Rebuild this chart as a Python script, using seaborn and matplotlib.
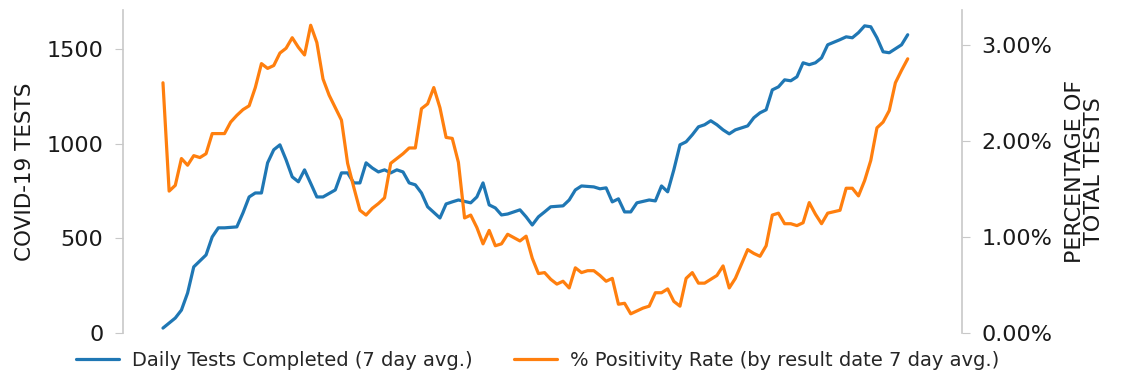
import numpy as np
import pandas as pd
import seaborn as sns
from matplotlib import pyplot as plt
from matplotlib.ticker import PercentFormatter

# daily tests completed, 7 day avg (day index, value)
tests_day = [0, 2, 3, 4, 5, 7, 8, 9, 10, 12, 13, 14, 15, 16, 17, 18, 19, 20, 21, 22,
             23, 24, 25, 26, 28, 29, 30, 31, 32, 33, 34, 35, 36, 37, 38, 39, 40, 41, 42, 43,
             45, 46, 47, 48, 50, 51, 52, 53, 54, 55, 56, 58, 59, 60, 61, 62, 63, 65, 66, 67,
             68, 70, 71, 72, 73, 74, 75, 76, 77, 79, 80, 81, 82, 83, 84, 85, 86, 87, 88, 89,
             90, 91, 92, 93, 95, 96, 97, 98, 99, 100, 101, 102, 103, 104, 105, 106, 107, 108, 110, 111,
             112, 113, 114, 115, 116, 117, 118, 119, 120, 121]
tests_val = [26, 79, 121, 211, 349, 412, 507, 555, 555, 560, 634, 718, 739, 739, 898, 967, 993, 914, 824, 798,
             861, 790, 718, 718, 755, 845, 845, 792, 792, 898, 871, 850, 861, 845, 861, 850, 792, 782, 739, 666,
             607, 681, 692, 702, 687, 718, 792, 676, 660, 623, 628, 650, 613, 570, 613, 639, 666, 671, 702, 755,
             776, 771, 761, 766, 692, 708, 639, 639, 687, 702, 697, 776, 745, 861, 993, 1009, 1046, 1088, 1099, 1120,
             1099, 1072, 1051, 1072, 1093, 1136, 1162, 1178, 1283, 1299, 1336, 1331, 1352, 1426, 1416, 1426, 1452, 1521, 1548, 1563,
             1558, 1585, 1621, 1616, 1558, 1484, 1479, 1500, 1521, 1574]

# positivity rate by result date, 7 day avg (day index, percent)
pos_day = [0, 1, 2, 3, 4, 5, 6, 7, 8, 10, 11, 12, 13, 14, 15, 16, 17, 18, 19, 20,
           21, 22, 23, 24, 25, 26, 27, 29, 30, 31, 32, 33, 34, 35, 36, 37, 39, 40, 41, 42,
           43, 44, 45, 46, 47, 48, 49, 50, 51, 52, 53, 54, 55, 56, 58, 59, 60, 61, 62, 63,
           64, 65, 66, 67, 68, 69, 70, 71, 72, 73, 74, 75, 76, 78, 79, 80, 81, 82, 83, 84,
           85, 86, 87, 88, 90, 91, 92, 93, 94, 95, 96, 97, 98, 99, 100, 101, 102, 103, 104, 105,
           106, 107, 108, 110, 111, 112, 113, 114, 115, 116, 117, 118, 119, 120, 121]
pos_val = [2.61, 1.48, 1.54, 1.82, 1.75, 1.85, 1.83, 1.87, 2.08, 2.08, 2.20, 2.27, 2.33, 2.37, 2.56, 2.81, 2.76, 2.79, 2.92, 2.97,
           3.08, 2.98, 2.90, 3.21, 3.03, 2.65, 2.48, 2.22, 1.77, 1.52, 1.28, 1.23, 1.30, 1.35, 1.41, 1.77, 1.87, 1.93, 1.93, 2.34,
           2.39, 2.56, 2.35, 2.04, 2.03, 1.78, 1.20, 1.23, 1.10, 0.93, 1.07, 0.91, 0.93, 1.03, 0.96, 1.01, 0.78, 0.62, 0.63, 0.56,
           0.51, 0.54, 0.47, 0.68, 0.63, 0.65, 0.65, 0.60, 0.54, 0.57, 0.30, 0.31, 0.20, 0.26, 0.28, 0.42, 0.42, 0.46, 0.33, 0.28,
           0.57, 0.63, 0.52, 0.52, 0.60, 0.70, 0.47, 0.57, 0.72, 0.87, 0.83, 0.80, 0.91, 1.23, 1.25, 1.14, 1.14, 1.12, 1.15, 1.36,
           1.24, 1.14, 1.25, 1.28, 1.51, 1.51, 1.43, 1.59, 1.80, 2.14, 2.20, 2.32, 2.61, 2.74, 2.86]

tests_label = 'Daily Tests Completed (7 day avg.)'
pos_label = '% Positivity Rate (by result date 7 day avg.)'

tests_df = pd.DataFrame({'day': tests_day, 'tests': tests_val})
pos_df = pd.DataFrame({'day': pos_day, 'pos': np.array(pos_val) / 100})

sns.set_style('white')
plt.rcParams['font.family'] = ['DejaVu Sans']

fig = plt.figure(figsize=(11.25, 3.77), dpi=100)
ax = fig.add_axes([0.1093, 0.1167, 0.7457, 0.857])
ax2 = ax.twinx()

sns.lineplot(data=tests_df, x='day', y='tests', ax=ax, color='#1f77b4', lw=2.3, label=tests_label, legend=False)
sns.lineplot(data=pos_df, x='day', y='pos', ax=ax2, color='#ff7f0e', lw=2.3, label=pos_label, legend=False)

ax.set_xlim(-6.5, 129.8)
ax.set_ylim(0, 1705)
ax2.set_ylim(0, 0.0337)
ax.set_yticks([0, 500, 1000, 1500])
ax2.set_yticks([0, 0.01, 0.02, 0.03])
ax2.yaxis.set_major_formatter(PercentFormatter(1.0, decimals=2))
ax.set_xticks([])
ax.set_xlabel('')
ax2.set_xlabel('')

for a in (ax, ax2):
    for s in ('top', 'bottom'):
        a.spines[s].set_visible(False)
    for s in ('left', 'right'):
        a.spines[s].set_color('#c8c8c8')
        a.spines[s].set_linewidth(1.2)
    a.tick_params(axis='y', labelsize=16, length=6, pad=8, color='#c8c8c8', labelcolor='#1a1a1a')
ax.spines['right'].set_visible(False)
ax2.spines['left'].set_visible(False)

ax.set_ylabel('COVID-19 TESTS', fontsize=15.5, color='#1a1a1a')
ax2.set_ylabel('PERCENTAGE OF\nTOTAL TESTS', fontsize=16, color='#1a1a1a', linespacing=0.95)
ax.yaxis.set_label_coords(-0.105, 0.5)
ax2.yaxis.set_label_coords(1.123, 0.5)

h1, l1 = ax.get_legend_handles_labels()
h2, l2 = ax2.get_legend_handles_labels()
fig.legend(h1 + h2, l1 + l2, loc='center', bbox_to_anchor=(0.478, 0.045), ncol=2,
           frameon=False, fontsize=14, handlelength=2.2, handletextpad=0.7, columnspacing=2.1)

fig.savefig('out.png', dpi=100)
